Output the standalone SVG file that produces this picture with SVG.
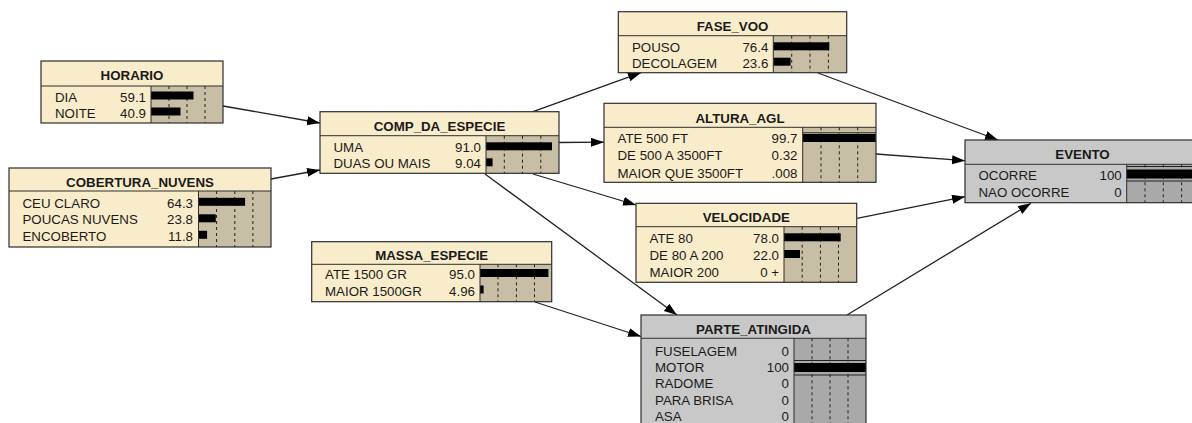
<svg xmlns="http://www.w3.org/2000/svg" width="1192" height="423" viewBox="0 0 1192 423">
<style>
.bg{fill:#ffffff}
.hb{fill:#f8ecca}
.db{fill:#f8ecca}
.ba{fill:#c8bea6}
.hg{fill:#c8c8c8}
.dg{fill:#c8c8c8}
.bg2{fill:#a9a9a9}
.frame{fill:none;stroke:#2e2e2e;stroke-width:1.2}
.sep{stroke:#2e2e2e;stroke-width:1}
.grid{stroke:#222;stroke-width:1;stroke-dasharray:3,3}
.tick{stroke:#222;stroke-width:1}
.bar{fill:#000}
text{font-family:"Liberation Sans",Arial,sans-serif;font-size:13.3px;fill:#1a1a1a}
.h{font-weight:bold;text-anchor:middle}
.v{text-anchor:end}
.edge{fill:none;stroke:#222;stroke-width:1.3}
</style>
<defs>
<marker id="ah" markerUnits="userSpaceOnUse" markerWidth="14" markerHeight="10" refX="13" refY="4.5" orient="auto">
<path d="M0,0 L13,4.5 L0,9 z" fill="#000"/>
</marker>
</defs>
<rect class="bg" x="0" y="0" width="1192" height="423"/>

<g id="connectors">
<line class="edge" x1="223" y1="106" x2="320" y2="123" marker-end="url(#ah)"/>
<line class="edge" x1="271" y1="179" x2="320" y2="170" marker-end="url(#ah)"/>
<line class="edge" x1="533" y1="111.7" x2="641" y2="72.7" marker-end="url(#ah)"/>
<line class="edge" x1="559" y1="142.5" x2="604" y2="142.2" marker-end="url(#ah)"/>
<line class="edge" x1="533" y1="174" x2="636" y2="205" marker-end="url(#ah)"/>
<line class="edge" x1="485" y1="174" x2="677" y2="315" marker-end="url(#ah)"/>
<line class="edge" x1="535" y1="302" x2="641" y2="336.5" marker-end="url(#ah)"/>
<line class="edge" x1="818" y1="73" x2="998" y2="140" marker-end="url(#ah)"/>
<line class="edge" x1="876" y1="154" x2="965" y2="160.7" marker-end="url(#ah)"/>
<line class="edge" x1="857" y1="218.3" x2="965" y2="196.7" marker-end="url(#ah)"/>
<line class="edge" x1="847" y1="315" x2="1031" y2="203.3" marker-end="url(#ah)"/>
</g>

<g id="HORARIO">
<rect class="hb" x="41" y="61" width="182" height="25"/>
<rect class="db" x="41" y="86" width="110" height="37"/>
<rect class="ba" x="151" y="86" width="72" height="37"/>
<line class="grid" x1="169" y1="86" x2="169" y2="123"/>
<line class="grid" x1="187" y1="86" x2="187" y2="123"/>
<line class="grid" x1="205" y1="86" x2="205" y2="123"/>
<rect class="bar" x="151" y="91.5" width="42.5" height="8"/>
<rect class="bar" x="151" y="107.5" width="29.5" height="8"/>
<line class="sep" x1="41" y1="86" x2="223" y2="86"/>
<line class="sep" x1="151" y1="86" x2="151" y2="123"/>
<rect class="frame" x="41" y="61" width="182" height="62"/>
<text class="h" x="132" y="80">HORARIO</text>
<text x="55" y="101.5">DIA</text><text class="v" x="146" y="101.5">59.1</text>
<text x="55" y="117.5">NOITE</text><text class="v" x="146" y="117.5">40.9</text>
</g>

<g id="COBERTURA_NUVENS">
<rect class="hb" x="9" y="168" width="262" height="23"/>
<rect class="db" x="9" y="191" width="189.5" height="56"/>
<rect class="ba" x="198.5" y="191" width="72.5" height="56"/>
<line class="grid" x1="216.6" y1="191" x2="216.6" y2="247"/>
<line class="grid" x1="234.8" y1="191" x2="234.8" y2="247"/>
<line class="grid" x1="252.9" y1="191" x2="252.9" y2="247"/>
<rect class="bar" x="198.5" y="197.8" width="46.6" height="8"/>
<rect class="bar" x="198.5" y="214.3" width="17.3" height="8"/>
<rect class="bar" x="198.5" y="230.8" width="8.6" height="8"/>
<line class="sep" x1="9" y1="191" x2="271" y2="191"/>
<line class="sep" x1="198.5" y1="191" x2="198.5" y2="247"/>
<rect class="frame" x="9" y="168" width="262" height="79"/>
<text class="h" x="140" y="187">COBERTURA_NUVENS</text>
<text x="22.5" y="207.8">CEU CLARO</text><text class="v" x="193" y="207.8">64.3</text>
<text x="22.5" y="224.3">POUCAS NUVENS</text><text class="v" x="193" y="224.3">23.8</text>
<text x="22.5" y="240.8">ENCOBERTO</text><text class="v" x="193" y="240.8">11.8</text>
</g>

<g id="COMP_DA_ESPECIE">
<rect class="hb" x="320" y="111.7" width="239" height="24"/>
<rect class="db" x="320" y="135.7" width="166" height="37.6"/>
<rect class="ba" x="486" y="135.7" width="73" height="37.6"/>
<line class="grid" x1="504.3" y1="135.7" x2="504.3" y2="173.3"/>
<line class="grid" x1="522.5" y1="135.7" x2="522.5" y2="173.3"/>
<line class="grid" x1="540.8" y1="135.7" x2="540.8" y2="173.3"/>
<rect class="bar" x="486" y="142.3" width="66" height="8"/>
<rect class="bar" x="486" y="158.3" width="6.6" height="8"/>
<line class="sep" x1="320" y1="135.7" x2="559" y2="135.7"/>
<line class="sep" x1="486" y1="135.7" x2="486" y2="173.3"/>
<rect class="frame" x="320" y="111.7" width="239" height="61.6"/>
<text class="h" x="439.5" y="131">COMP_DA_ESPECIE</text>
<text x="333.5" y="152.3">UMA</text><text class="v" x="481" y="152.3">91.0</text>
<text x="333.5" y="168.3">DUAS OU MAIS</text><text class="v" x="481" y="168.3">9.04</text>
</g>

<g id="FASE_VOO">
<rect class="hb" x="618.3" y="11.7" width="228.4" height="24"/>
<rect class="db" x="618.3" y="35.7" width="155" height="37"/>
<rect class="ba" x="773.3" y="35.7" width="73.4" height="37"/>
<line class="grid" x1="791.7" y1="35.7" x2="791.7" y2="72.7"/>
<line class="grid" x1="810" y1="35.7" x2="810" y2="72.7"/>
<line class="grid" x1="828.4" y1="35.7" x2="828.4" y2="72.7"/>
<rect class="bar" x="773.3" y="42.3" width="56" height="8"/>
<rect class="bar" x="773.3" y="57.7" width="17.3" height="8"/>
<line class="sep" x1="618.3" y1="35.7" x2="846.7" y2="35.7"/>
<line class="sep" x1="773.3" y1="35.7" x2="773.3" y2="72.7"/>
<rect class="frame" x="618.3" y="11.7" width="228.4" height="61"/>
<text class="h" x="732.5" y="30.5">FASE_VOO</text>
<text x="632" y="52.3">POUSO</text><text class="v" x="768.3" y="52.3">76.4</text>
<text x="632" y="67.7">DECOLAGEM</text><text class="v" x="768.3" y="67.7">23.6</text>
</g>

<g id="ALTURA_AGL">
<rect class="hb" x="604" y="103.3" width="272" height="24"/>
<rect class="db" x="604" y="127.3" width="198.7" height="55"/>
<rect class="ba" x="802.7" y="127.3" width="73.3" height="55"/>
<line class="grid" x1="821" y1="127.3" x2="821" y2="182.3"/>
<line class="grid" x1="839.3" y1="127.3" x2="839.3" y2="182.3"/>
<line class="grid" x1="857.7" y1="127.3" x2="857.7" y2="182.3"/>
<line class="tick" x1="802.7" y1="132.8" x2="876" y2="132.8"/>
<rect class="bar" x="802.7" y="134" width="73.1" height="8"/>
<line class="sep" x1="604" y1="127.3" x2="876" y2="127.3"/>
<line class="sep" x1="802.7" y1="127.3" x2="802.7" y2="182.3"/>
<rect class="frame" x="604" y="103.3" width="272" height="79"/>
<text class="h" x="740" y="122.5">ALTURA_AGL</text>
<text x="617.5" y="142.7">ATE 500 FT</text><text class="v" x="797.5" y="142.7">99.7</text>
<text x="617.5" y="160.3">DE 500 A 3500FT</text><text class="v" x="797.5" y="160.3">0.32</text>
<text x="617.5" y="177.7">MAIOR QUE 3500FT</text><text class="v" x="797.5" y="177.7">.008</text>
</g>

<g id="VELOCIDADE">
<rect class="hb" x="636" y="203.3" width="220.7" height="23.4"/>
<rect class="db" x="636" y="226.7" width="148" height="55.6"/>
<rect class="ba" x="784" y="226.7" width="72.7" height="55.6"/>
<line class="grid" x1="802.2" y1="226.7" x2="802.2" y2="282.3"/>
<line class="grid" x1="820.4" y1="226.7" x2="820.4" y2="282.3"/>
<line class="grid" x1="838.5" y1="226.7" x2="838.5" y2="282.3"/>
<rect class="bar" x="784" y="233.3" width="56.7" height="8"/>
<rect class="bar" x="784" y="250" width="16" height="8"/>
<line class="sep" x1="636" y1="226.7" x2="856.7" y2="226.7"/>
<line class="sep" x1="784" y1="226.7" x2="784" y2="282.3"/>
<rect class="frame" x="636" y="203.3" width="220.7" height="79"/>
<text class="h" x="746.3" y="222">VELOCIDADE</text>
<text x="649.5" y="243.3">ATE 80</text><text class="v" x="779" y="243.3">78.0</text>
<text x="649.5" y="260">DE 80 A 200</text><text class="v" x="779" y="260">22.0</text>
<text x="649.5" y="276.7">MAIOR 200</text><text class="v" x="779" y="276.7">0 +</text>
</g>

<g id="MASSA_ESPECIE">
<rect class="hb" x="311.7" y="241.7" width="240" height="22.6"/>
<rect class="db" x="311.7" y="264.3" width="168.3" height="37.4"/>
<rect class="ba" x="480" y="264.3" width="71.7" height="37.4"/>
<line class="grid" x1="498" y1="264.3" x2="498" y2="301.7"/>
<line class="grid" x1="516.4" y1="264.3" x2="516.4" y2="301.7"/>
<line class="grid" x1="534.5" y1="264.3" x2="534.5" y2="301.7"/>
<rect class="bar" x="480" y="269" width="68.4" height="8"/>
<rect class="bar" x="480" y="285.5" width="3.6" height="8"/>
<line class="sep" x1="311.7" y1="264.3" x2="551.7" y2="264.3"/>
<line class="sep" x1="480" y1="264.3" x2="480" y2="301.7"/>
<rect class="frame" x="311.7" y="241.7" width="240" height="60"/>
<text class="h" x="431.7" y="260">MASSA_ESPECIE</text>
<text x="325" y="279">ATE 1500 GR</text><text class="v" x="475" y="279">95.0</text>
<text x="325" y="295.5">MAIOR 1500GR</text><text class="v" x="475" y="295.5">4.96</text>
</g>

<g id="PARTE_ATINGIDA">
<rect class="hg" x="641" y="315" width="225" height="23.3"/>
<rect class="dg" x="641" y="338.3" width="153" height="100"/>
<rect class="bg2" x="794" y="338.3" width="72" height="100"/>
<line class="grid" x1="812" y1="338.3" x2="812" y2="438"/>
<line class="grid" x1="830" y1="338.3" x2="830" y2="438"/>
<line class="grid" x1="848" y1="338.3" x2="848" y2="438"/>
<line class="tick" x1="794" y1="360.5" x2="866" y2="360.5"/>
<rect class="bar" x="794" y="363" width="72" height="9"/>
<line class="tick" x1="794" y1="375" x2="866" y2="375"/>
<line class="sep" x1="641" y1="338.3" x2="866" y2="338.3"/>
<line class="sep" x1="794" y1="338.3" x2="794" y2="438"/>
<rect class="frame" x="641" y="315" width="225" height="123"/>
<text class="h" x="753.5" y="334">PARTE_ATINGIDA</text>
<text x="655" y="355.7">FUSELAGEM</text><text class="v" x="789" y="355.7">0</text>
<text x="655" y="372">MOTOR</text><text class="v" x="789" y="372">100</text>
<text x="655" y="388.3">RADOME</text><text class="v" x="789" y="388.3">0</text>
<text x="655" y="404.5">PARA BRISA</text><text class="v" x="789" y="404.5">0</text>
<text x="655" y="420.7">ASA</text><text class="v" x="789" y="420.7">0</text>
</g>

<g id="EVENTO">
<rect class="hg" x="965" y="140" width="235" height="24.3"/>
<rect class="dg" x="965" y="164.3" width="161.7" height="38.4"/>
<rect class="bg2" x="1126.7" y="164.3" width="73.3" height="38.4"/>
<line class="grid" x1="1145" y1="164.3" x2="1145" y2="202.7"/>
<line class="grid" x1="1163.3" y1="164.3" x2="1163.3" y2="202.7"/>
<line class="grid" x1="1181.6" y1="164.3" x2="1181.6" y2="202.7"/>
<line class="tick" x1="1126.7" y1="166.5" x2="1200" y2="166.5"/>
<rect class="bar" x="1126.7" y="169.5" width="73.3" height="9"/>
<line class="tick" x1="1126.7" y1="181" x2="1200" y2="181"/>
<line class="sep" x1="965" y1="164.3" x2="1200" y2="164.3"/>
<line class="sep" x1="1126.7" y1="164.3" x2="1126.7" y2="202.7"/>
<rect class="frame" x="965" y="140" width="235" height="62.7"/>
<text class="h" x="1082.5" y="158.5">EVENTO</text>
<text x="978.5" y="180">OCORRE</text><text class="v" x="1121.7" y="180">100</text>
<text x="978.5" y="196.5">NAO OCORRE</text><text class="v" x="1121.7" y="196.5">0</text>
</g>
</svg>
